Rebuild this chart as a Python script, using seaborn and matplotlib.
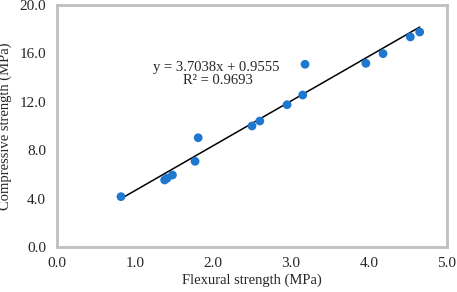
import matplotlib
matplotlib.use("Agg")
import matplotlib.pyplot as plt
import seaborn as sns
import numpy as np
import pandas as pd

flexural = [0.82, 1.38, 1.41, 1.48, 1.77, 1.81, 2.50, 2.60, 2.95, 3.15, 3.18, 3.96, 4.18, 4.53, 4.65]
compressive = [4.16, 5.54, 5.68, 5.95, 7.08, 9.03, 10.0, 10.41, 11.76, 12.56, 15.1, 15.18, 15.98, 17.36, 17.77]
slope = 3.7038
intercept = 0.9555
eq_text = "y = 3.7038x + 0.9555"
r2_text = "R² = 0.9693"
xticks = [0.0, 1.0, 2.0, 3.0, 4.0, 5.0]
yticks = [0.0, 4.0, 8.0, 12.0, 16.0, 20.0]

df = pd.DataFrame({"x": flexural, "y": compressive})

sns.set_theme(style="white")
plt.rcParams['font.family'] = ['Liberation Serif', 'DejaVu Serif']

fig = plt.figure(figsize=(4.57, 2.92), dpi=100)
ax = fig.add_axes([57/457, 1 - 247/292, (447-57)/457, (247-5)/292])

xs = np.array([min(flexural), max(flexural)])
ax.plot(xs, slope * xs + intercept, color="black", lw=1.1, zorder=2)
sns.scatterplot(data=df, x="x", y="y", ax=ax, color="#1F78D0", s=40, edgecolor="none", zorder=3)

ax.set_xlim(0, 5)
ax.set_ylim(0, 20)
ax.set_xticks(xticks)
ax.set_yticks(yticks)
ax.set_xticklabels([f"{t:.1f}" for t in xticks], fontsize=11)
ax.set_yticklabels([f"{t:.1f}" for t in yticks], fontsize=11)
ax.tick_params(axis="y", length=0, pad=8)
ax.tick_params(axis="x", length=0, pad=7)
ax.set_xlabel("Flexural strength (MPa)", fontsize=10.5, labelpad=3)
ax.set_ylabel("Compressive strength (MPa)", fontsize=10.5, labelpad=5)
for s in ax.spines.values():
    s.set_color("#BFBFBF")
    s.set_linewidth(2)

ax.text(2.045, 14.82, eq_text, ha="center", va="center", fontsize=10.5)
ax.text(2.06, 13.8, r2_text, ha="center", va="center", fontsize=10.5)

fig.savefig("out.png", dpi=100)
